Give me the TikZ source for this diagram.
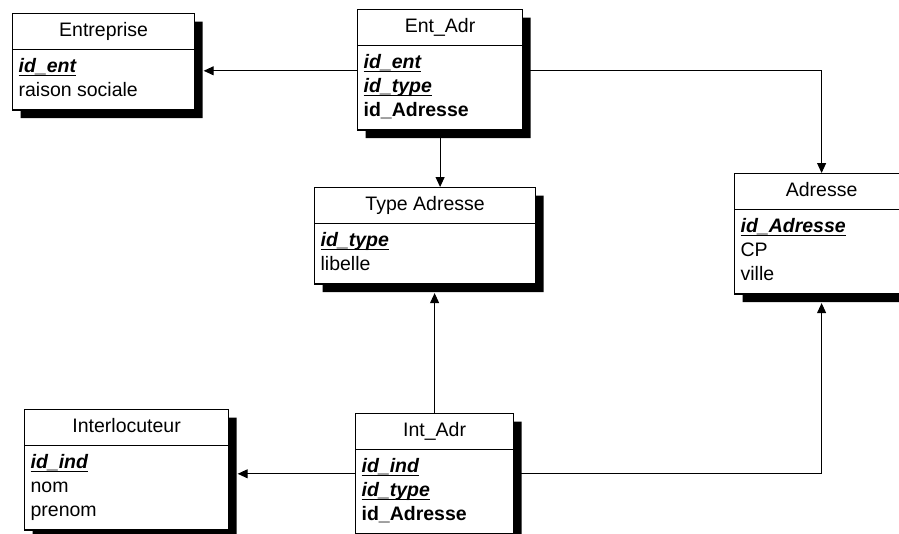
\documentclass[tikz,border=0pt]{standalone}
\usepackage{fontspec}
\setmainfont{Liberation Sans}
\usetikzlibrary{arrows.meta,shapes.multipart,shadows}

% primary key: bold italic, underlined
\newcommand\pkey[1]{{\bfseries\itshape\setbox0\hbox{#1}%
  \rlap{\rule[-3.2pt]{\wd0}{1.4pt}}\box0}}

\begin{document}
\begin{tikzpicture}[
  x=1pt, y=-1pt,
  table/.style={rectangle split, rectangle split parts=2,
    rectangle split part align={center,left}, draw, line width=1.2pt,
    fill=white, anchor=north west, align=left, inner xsep=6pt,
    inner ysep=5.5pt, font=\fontsize{19.5}{24}\selectfont,
    drop shadow={shadow xshift=8pt, shadow yshift=-8pt, fill=black,
                 opacity=1}},
  link/.style={-{Triangle[length=10pt,width=9pt]}, line width=1pt},
  toshadow/.style={shorten >=8.5pt}
]
  \path[use as bounding box, clip] (0,0) rectangle (899,533);
  \fill[white] (0,0) rectangle (899,533);

  % Tables
  \node[table, minimum width=182] (entreprise) at (12,13)
    {\strut Entreprise
     \nodepart{two}\strut\pkey{id\_ent}\\
     \strut raison sociale};
  \node[table, minimum width=165] (entadr) at (357,9)
    {\strut Ent\_Adr
     \nodepart{two}\strut\pkey{id\_ent}\\
     \strut\pkey{id\_type}\\
     \strut\textbf{id\_Adresse}};
  \node[table, minimum width=221] (typeadr) at (314,187)
    {\strut Type Adresse
     \nodepart{two}\strut\pkey{id\_type}\\
     \strut libelle};
  \node[table, minimum width=174] (adresse) at (734,173)
    {\strut Adresse
     \nodepart{two}\strut\pkey{id\_Adresse}\\
     \strut CP\\
     \strut ville};
  \node[table, minimum width=204] (interloc) at (24,409)
    {\strut Interlocuteur
     \nodepart{two}\strut\pkey{id\_ind}\\
     \strut nom\\
     \strut prenom};
  \node[table, minimum width=158] (intadr) at (355,413)
    {\strut Int\_Adr
     \nodepart{two}\strut\pkey{id\_ind}\\
     \strut\pkey{id\_type}\\
     \strut\textbf{id\_Adresse}};

  % Link levels (first key row)
  \coordinate (entrow) at ([yshift=-25pt]entadr.text split west);
  \coordinate (introw) at ([yshift=-24pt]intadr.text split west);

  % Links
  \draw[link, toshadow] (entrow) -- (entrow -| entreprise.east);
  \draw[link] (entrow -| entadr.east) -| (adresse.north);
  \draw[link] (entadr.south) -- (entadr.south |- typeadr.north);
  \draw[link, toshadow] (introw) -- (introw -| interloc.east);
  \draw[link, toshadow] (introw -| intadr.east) -| (adresse.south);
  \draw[link, toshadow] (intadr.north) -- (intadr.north |- typeadr.south);
\end{tikzpicture}
\end{document}
